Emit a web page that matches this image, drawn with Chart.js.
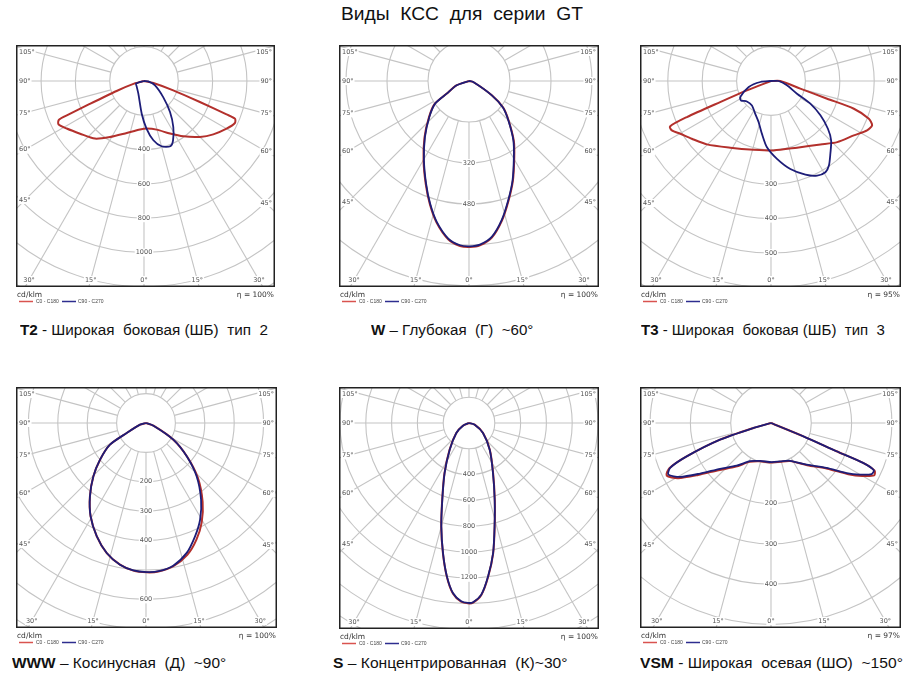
<!DOCTYPE html>
<html><head><meta charset="utf-8">
<script src="https://cdn.jsdelivr.net/npm/chart.js@4.4.1/dist/chart.umd.min.js"></script>
<style>
html,body{margin:0;padding:0;background:#fff;}
#page{position:relative;width:916px;height:687px;overflow:hidden;font-family:"Liberation Sans",Arial,sans-serif;color:#111;}
canvas{position:absolute;}
.t{position:absolute;white-space:pre;transform-origin:0 50%;line-height:1;}
</style></head><body><div id="page"></div>
<script>
// ---------- DATA (gamma angle in degrees, 0 = straight down; intensity in cd/klm) ----------
const T2_C0_ANG  = [-90,-75,-70,-67,-66,-65.5,-63.2,-58.4,-50.5,-40.4,-31.3,-18.4,-4.7,3.2,14.6,26.3,35.4,45,52.4,60,65.2,67.5,68,69.4,72.3,77.9,90];
const T2_C0_VAL  = [0,60,170,350,480,545,559,529,483,441,382,319,284,278,293,342,396,461,510,556,584,574,519,348,179,56,0];
const T2_C90_ANG = [-90,-72,-54,-24,-4,3,9,15,22,26,32.5,40,50,68.5,86,90];
const T2_C90_VAL = [0,49,53,81,191,278,350,394,410,386,318,236,146,69,25,0];

const W_C0_ANG  = [-90,-70.6,-60.4,-56.3,-47.8,-38.2,-29.6,-22.7,-17.6,-12.9,-7.5,-3.1,0.3,3.8,8.3,13.2,18.2,23.7,30.6,36.8,45,52,58,77,90];
const W_C0_VAL  = [0,52,101,161,211,281,359,437,505,567,623,645,648,643,618,561,493,426,347,292,219,170,105,17,0];
const W_C90_ANG = [-90,-70.6,-60.4,-56.3,-47.8,-38.2,-29.6,-22.7,-17.6,-12.9,-7.5,-3.1,0.3,3.8,8.3,13.2,18.2,23.7,30.6,36.8,45,52,58,77,90];
const W_C90_VAL = [0,51,100,159,209,278,356,434,502,564,620,642,645,640,615,558,490,423,344,289,217,168,104,17,0];

const T3_C0_ANG  = [-90,-68.7,-67.5,-66.8,-65.8,-63.5,-59.8,-53.9,-45.3,-31.4,-14.2,2.2,21.3,37.9,47.3,56.7,62.8,66.3,68.9,71.5,72.5,75.4,90,90];
const T3_C0_VAL  = [0,75,160,266,322,322,305,285,262,227,206,202,208,234,262,288,314,321,305,254,171,88,27,0];
const T3_C90_ANG = [-90,-84.6,-75,-62.4,-57.2,-49.7,-38,-25.6,-16.7,-9.7,-3.5,4.4,12.4,20.2,26,30.8,34.4,39.2,45.3,50,55.2,60.1,64,74.8,90,90];
const T3_C90_VAL = [0,31,67,101,104,92,90,106,125,156,193,227,262,290,306,309,298,273,246,216,175,132,84,48,22,0];

const WWW_C0_ANG  = [-90,-74.5,-62.6,-59,-51.4,-44.6,-37.4,-30.7,-23.5,-16.8,-10.4,-4.9,0.3,4.8,10.8,17.4,23.4,29.2,35.7,43.5,50.7,58.6,70,90];
const WWW_C0_VAL  = [0,21,74,143,200,255,314,369,420,462,490,504,508,507,496,470,432,388,330,256,181,109,27,0];
const WWW_C90_ANG = [-90,-74.5,-62.6,-59,-51.4,-44.6,-37.4,-30.7,-23.5,-16.8,-10.4,-4.9,0.3,4.8,10.8,17.4,23.4,29.2,35.7,43.5,50.7,58.6,70,90];
const WWW_C90_VAL = [0,21,74,143,200,255,314,369,420,462,490,503,507,506,494,463,420,377,321,250,179,109,27,0];

const S_C0_ANG  = [-90,-66,-51.7,-35.9,-26,-19.2,-15,-11.3,-8.2,-5.4,-2.5,-0.3,1.3,4.1,7.1,10.5,13.9,18.5,25.6,37.8,54.5,73.6,90];
const S_C0_VAL  = [0,52,127,258,434,632,832,1031,1204,1327,1387,1398,1393,1337,1201,1028,828,630,433,264,134,46,0];
const S_C90_ANG = [-90,-66,-51.7,-35.9,-26,-19.2,-15,-11.3,-8.2,-5.4,-2.5,-0.3,1.3,4.1,7.1,10.5,13.9,18.5,25.6,37.8,54.5,73.6,90];
const S_C90_VAL = [0,51,125,255,431,629,829,1028,1201,1324,1384,1395,1390,1334,1198,1025,825,627,430,262,133,46,0];

const VSM_C0_ANG  = [-90,-74.2,-71.9,-68.4,-66,-63.3,-59.3,-54.5,-48,-38.8,-28.7,-16.1,1,13.1,26.8,40.6,51,56.5,59.9,63.1,65.3,66.6,66.7,67.6,90];
const VSM_C0_VAL  = [0,45,133,225,276,290,268,222,175,139,110,99,98,99,106,138,180,230,262,287,283,249,177,87,0];
const VSM_C90_ANG = [-90,-74.2,-71.9,-68.4,-66,-63.3,-59.3,-54.5,-48,-38.8,-28.7,-16.1,1,13.1,26.8,40.6,51,56.5,59.9,63.1,65.3,66.6,66.7,67.6,90];
const VSM_C90_VAL = [0,45,133,225,274,285,262,216,170,136,108,98,97,98,105,136,177,225,255,280,281,249,177,87,0];

// radial tick labels (cd/klm) shown on each diagram
const T2_TICKS  = [400,600,800,1000];
const W_TICKS   = [320,480];
const T3_TICKS  = [300,400,500];
const WWW_TICKS = [200,300,400,600];
const S_TICKS   = [400,600,800,1000,1200];
const VSM_TICKS = [200,300,400];

const SIDE_ANGLES   = [105,90,75,60,45];
const BOTTOM_ANGLES = [-30,-15,0,15,30];
const SERIES_NAMES  = ['C0 - C180','C90 - C270'];

const TITLE = 'Виды  КСС  для  серии  GT';

// ---------- LAYOUT ----------
const RED = '#b3302c', BLUE = '#1d1d78';
const panels = [
  {c0:[T2_C0_ANG,T2_C0_VAL], c90:[T2_C90_ANG,T2_C90_VAL], ticks:T2_TICKS, step:200, pps:34.3, eta:'η = 100%',
   left:16, top:45, w:259, h:242, cx:128, cy:36, cap:{b:'T2', r:' - Широкая  боковая (ШБ)  тип  2', x:20, w:248, y:330}},
  {c0:[W_C0_ANG,W_C0_VAL], c90:[W_C90_ANG,W_C90_VAL], ticks:W_TICKS, step:160, pps:41, eta:'η = 100%',
   left:339, top:45, w:260, h:242, cx:130, cy:36, cap:{b:'W', r:' – Глубокая  (Г)  ~60°', x:371, w:162, y:330}},
  {c0:[T3_C0_ANG,T3_C0_VAL], c90:[T3_C90_ANG,T3_C90_VAL], ticks:T3_TICKS, step:100, pps:34.4, eta:'η = 95%',
   left:640, top:45, w:261, h:242, cx:131, cy:36, cap:{b:'T3', r:' - Широкая  боковая (ШБ)  тип  3', x:641, w:244, y:330}},
  {c0:[WWW_C0_ANG,WWW_C0_VAL], c90:[WWW_C90_ANG,WWW_C90_VAL], ticks:WWW_TICKS, step:100, pps:29.4, eta:'η = 100%',
   left:16, top:387, w:261, h:241, cx:130, cy:36, cap:{b:'WWW', r:' – Косинусная  (Д)  ~90°', x:12, w:214, y:663}},
  {c0:[S_C0_ANG,S_C0_VAL], c90:[S_C90_ANG,S_C90_VAL], ticks:S_TICKS, step:200, pps:25.8, eta:'η = 100%',
   left:339, top:387, w:260, h:242, cx:130, cy:36, cap:{b:'S', r:' – Концентрированная  (К)~30°', x:333, w:235, y:663}},
  {c0:[VSM_C0_ANG,VSM_C0_VAL], c90:[VSM_C90_ANG,VSM_C90_VAL], ticks:VSM_TICKS, step:100, pps:40.3, eta:'η = 97%',
   left:640, top:387, w:261, h:241, cx:131, cy:36, cap:{b:'VSM', r:' - Широкая  осевая (ШО)  ~150°', x:640, w:263, y:663}},
];

function toXY(ang, val){
  return ang.map((a,i)=>{const t=a*Math.PI/180; return {x: val[i]*Math.sin(t), y: -val[i]*Math.cos(t)};});
}

function bgText(ctx, txt, x, y, align){
  const m = ctx.measureText(txt).width;
  let l = align==='left'? x : align==='right'? x-m : x-m/2;
  ctx.fillStyle='#fff'; ctx.fillRect(l-1, y-4, m+2, 8);
  ctx.fillStyle='#555'; ctx.textAlign=align; ctx.textBaseline='middle'; ctx.fillText(txt, x, y);
}

const polarGrid = {
  id:'polarGrid',
  beforeDatasetsDraw(chart, args, o){
    const {ctx, chartArea:a, scales:{x,y}} = chart;
    const cx = x.getPixelForValue(0), cy = y.getPixelForValue(0);
    const r1 = x.getPixelForValue(o.step) - cx;
    const maxR = Math.hypot(Math.max(cx-a.left,a.right-cx), Math.max(cy-a.top,a.bottom-cy));
    ctx.save();
    ctx.beginPath(); ctx.rect(a.left,a.top,a.right-a.left,a.bottom-a.top); ctx.clip();
    ctx.strokeStyle='#c4c4c4'; ctx.lineWidth=1.1;
    for(let k=1;k*r1<maxR+1;k++){ctx.beginPath();ctx.arc(cx,cy,k*r1,0,Math.PI*2);ctx.stroke();}
    for(let g=0; g<360; g+=15){
      const t=g*Math.PI/180, s=Math.sin(t), c=Math.cos(t);
      ctx.beginPath(); ctx.moveTo(cx+s*r1, cy+c*r1); ctx.lineTo(cx+s*maxR, cy+c*maxR); ctx.stroke();
    }
    ctx.font='6.5px "DejaVu Sans", sans-serif';
    o.ticks.forEach(v=>{ bgText(ctx, String(v), cx, y.getPixelForValue(-v), 'center'); });
    SIDE_ANGLES.forEach(g=>{
      const t=g*Math.PI/180;
      let dl = cx-a.left-9, yl = cy + dl*Math.cos(t)/Math.sin(t);
      let dr = a.right-cx-9, yr = cy + dr*Math.cos(t)/Math.sin(t);
      yl=Math.max(yl,a.top+7); yr=Math.max(yr,a.top+7);
      bgText(ctx, g+'°', a.left+3, yl, 'left');
      bgText(ctx, g+'°', a.right-3, yr, 'right');
    });
    BOTTOM_ANGLES.forEach(g=>{
      const t=g*Math.PI/180, yy=a.bottom-7;
      let xx = cx + (yy-cy)*Math.tan(t);
      const hw = ctx.measureText(Math.abs(g)+'°').width/2;
      xx = Math.min(Math.max(xx, a.left+3+hw), a.right-3-hw);
      bgText(ctx, Math.abs(g)+'°', xx, yy, 'center');
    });
    ctx.restore();
  },
  afterDraw(chart, args, o){
    const {ctx, chartArea:a} = chart;
    ctx.save();
    ctx.strokeStyle='#222'; ctx.lineWidth=1.5;
    ctx.strokeRect(a.left+0.75, a.top+0.75, a.right-a.left-1.5, a.bottom-a.top-1.5);
    // footer: unit, efficiency, legend
    ctx.fillStyle='#333'; ctx.textBaseline='middle';
    ctx.font='7.5px "DejaVu Sans", sans-serif';
    ctx.textAlign='left'; ctx.fillText('cd/klm', a.left+1, a.bottom+8);
    ctx.textAlign='right'; ctx.fillText(o.eta, a.right-1, a.bottom+8);
    const ly = a.bottom+14.5;
    ctx.lineWidth=1.5;
    ctx.strokeStyle='#d9534f'; ctx.beginPath(); ctx.moveTo(a.left+3,ly); ctx.lineTo(a.left+17,ly); ctx.stroke();
    ctx.strokeStyle='#2d2d8f'; ctx.beginPath(); ctx.moveTo(a.left+46,ly); ctx.lineTo(a.left+60,ly); ctx.stroke();
    ctx.font='5px "Liberation Sans", sans-serif'; ctx.textAlign='left'; ctx.fillStyle='#444';
    ctx.fillText(SERIES_NAMES[0], a.left+20, ly);
    ctx.fillText(SERIES_NAMES[1], a.left+62, ly);
    ctx.restore();
  }
};
Chart.register(polarGrid);

const page = document.getElementById('page');
function addText(txtHtml, x, y, w, size){
  const d=document.createElement('div'); d.className='t'; d.innerHTML=txtHtml;
  d.style.fontSize=size+'px'; d.style.left=x+'px'; d.style.top=(y-size/2)+'px';
  page.appendChild(d);
  const sw=d.offsetWidth; if(sw>0) d.style.transform='scaleX('+(w/sw)+')';
}
addText(TITLE, 341, 14, 242, 18.5);

panels.forEach(p=>{
  const cv=document.createElement('canvas');
  cv.width=p.w; cv.height=p.h+20;
  cv.style.left=p.left+'px'; cv.style.top=p.top+'px';
  cv.style.width=p.w+'px'; cv.style.height=(p.h+20)+'px';
  page.appendChild(cv);
  const u = p.step/p.pps;
  new Chart(cv, {
    type:'scatter',
    data:{datasets:[
      {label:SERIES_NAMES[1], data:toXY(p.c90[0],p.c90[1]), showLine:true, borderColor:BLUE, borderWidth:1.8, pointRadius:0, tension:0.25, order:1, fill:false},
      {label:SERIES_NAMES[0], data:toXY(p.c0[0],p.c0[1]), showLine:true, borderColor:RED, borderWidth:2, pointRadius:0, tension:0.25, order:2, fill:false}
    ]},
    options:{
      responsive:false, animation:false, devicePixelRatio:1,
      layout:{padding:{left:0,right:0,top:0,bottom:20}},
      scales:{
        x:{type:'linear', display:false, min:-p.cx*u, max:(p.w-p.cx)*u},
        y:{type:'linear', display:false, min:-(p.h-p.cy)*u, max:p.cy*u}
      },
      plugins:{legend:{display:false}, tooltip:{enabled:false}, polarGrid:{step:p.step, ticks:p.ticks, eta:p.eta}}
    }
  });
  addText('<b>'+p.cap.b+'</b>'+p.cap.r, p.cap.x, p.cap.y, p.cap.w, 15.5);
});
</script>
</body></html>
